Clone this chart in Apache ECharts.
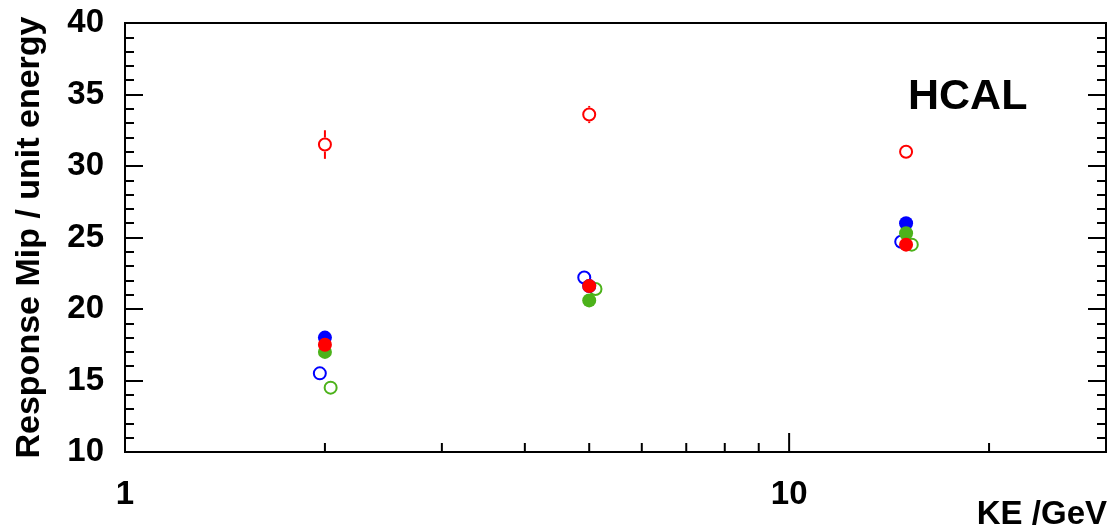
<!DOCTYPE html>
<html>
<head>
<meta charset="utf-8">
<script src="https://cdn.jsdelivr.net/npm/echarts@6/dist/echarts.min.js"></script>
<style>
  html, body { margin: 0; padding: 0; background: #fff; }
  #chart { width: 1114px; height: 529px; }
</style>
</head>
<body>
<div id="chart"></div>
<script>
// Beam kinetic energies (GeV) and the responses measured at each
const energies = [2, 5, 15];
const blueOpenX = [1.965, 4.915, 14.75];
const greenOpenX = [2.04, 5.11, 15.3];

const redOpenY = [31.5, 33.6, 31.0];
const redOpenErr = [1.0, 0.6, 0.15];
const blueOpenY = [15.5, 22.2, 24.7];
const greenOpenY = [14.5, 21.4, 24.5];
const blueFilledY = [18.0, 21.6, 26.0];
const greenFilledY = [17.0, 20.6, 25.3];
const redFilledY = [17.5, 21.6, 24.5];

// Log-axis tick positions
const xMinorTicks = [2, 3, 4, 5, 6, 7, 8, 9, 20];
const xMajorTicks = [10];
const xLabels = [1, 10];

const RED = '#ff0000';
const BLUE = '#0000ff';
const GREEN = '#4cb21a';
const FONT = 'Liberation Sans, Arial, sans-serif';

const zip = (xs, ys) => xs.map((x, i) => [x, ys[i]]);

const chart = echarts.init(document.getElementById('chart'));

function openSeries(name, xs, ys, color) {
  return {
    name, type: 'scatter', data: zip(xs, ys), z: 3,
    symbol: 'circle', symbolSize: 12,
    itemStyle: { color: 'rgba(0,0,0,0)', borderColor: color, borderWidth: 2, opacity: 1 },
    emphasis: { disabled: true }
  };
}
function filledSeries(name, xs, ys, color, z) {
  return {
    name, type: 'scatter', data: zip(xs, ys), z,
    symbol: 'circle', symbolSize: 14,
    itemStyle: { color, borderWidth: 0, opacity: 1 },
    emphasis: { disabled: true }
  };
}

const yAxisCommon = {
  type: 'value', min: 10, max: 40, interval: 5,
  axisLine: { show: true, lineStyle: { color: '#000', width: 2 } },
  axisTick: { show: true, inside: true, length: 18, lineStyle: { color: '#000', width: 2 } },
  minorTick: { show: true, splitNumber: 5, length: 9, lineStyle: { color: '#000', width: 2 } },
  splitLine: { show: false }
};

chart.setOption({
  animation: false,
  backgroundColor: '#fff',
  title: {
    text: 'HCAL', left: 903, top: 71,
    textStyle: { fontFamily: FONT, fontWeight: 'bold', fontSize: 43, color: '#000' }
  },
  grid: {
    left: 125, right: 8, top: 23, bottom: 77,
    outerBoundsMode: 'none', containLabel: false,
    show: true, borderColor: '#000', borderWidth: 2, backgroundColor: 'rgba(0,0,0,0)'
  },
  xAxis: {
    type: 'log', logBase: 10, min: 1, max: 30,
    name: 'KE /GeV', nameLocation: 'end', nameGap: 1,
    nameTextStyle: {
      fontFamily: FONT, fontWeight: 'bold', fontSize: 33, color: '#000',
      align: 'right', verticalAlign: 'top', padding: [46, 0, 0, 0]
    },
    axisLine: { show: true, lineStyle: { color: '#000', width: 2 } },
    axisTick: { show: false },
    splitLine: { show: false },
    axisLabel: {
      fontFamily: FONT, fontWeight: 'bold', fontSize: 33, color: '#000', margin: 26,
      showMaxLabel: false,
      formatter: v => (xLabels.indexOf(Math.round(v)) >= 0 ? String(Math.round(v)) : '')
    }
  },
  yAxis: [
    Object.assign({}, yAxisCommon, {
      position: 'left',
      name: 'Response Mip / unit energy', nameLocation: 'middle', nameRotate: 90, nameGap: 78,
      nameTextStyle: { fontFamily: FONT, fontWeight: 'bold', fontSize: 34, color: '#000' },
      axisLabel: { fontFamily: FONT, fontWeight: 'bold', fontSize: 33, color: '#000', margin: 21 }
    }),
    Object.assign({}, yAxisCommon, {
      position: 'right',
      axisLabel: { show: false }
    })
  ],
  series: [
    {
      // minor and major ticks along the log x axis
      name: 'xticks', type: 'custom', silent: true, z: 5,
      data: xMinorTicks.map(v => [v, 9]).concat(xMajorTicks.map(v => [v, 19])),
      renderItem: (params, api) => {
        const p = api.coord([api.value(0), 10]);
        const len = api.value(1);
        return {
          type: 'line',
          shape: { x1: p[0], y1: p[1], x2: p[0], y2: p[1] - len },
          style: { stroke: '#000', lineWidth: 2 }
        };
      }
    },
    openSeries('blue open', blueOpenX, blueOpenY, BLUE),
    openSeries('green open', greenOpenX, greenOpenY, GREEN),
    openSeries('red open', energies, redOpenY, RED),
    {
      // vertical error bars on the red open points, drawn outside the marker
      name: 'red open err', type: 'custom', silent: true, z: 3,
      data: energies.map((x, i) => [x, redOpenY[i], redOpenErr[i]]),
      renderItem: (params, api) => {
        const x = api.value(0), y = api.value(1), e = api.value(2);
        const c = api.coord([x, y]);
        const top = api.coord([x, y + e]);
        const bot = api.coord([x, y - e]);
        const r = 7;
        const children = [];
        if (c[1] - top[1] > r) children.push({ type: 'line', shape: { x1: c[0], y1: top[1], x2: c[0], y2: c[1] - r }, style: { stroke: RED, lineWidth: 2 } });
        if (bot[1] - c[1] > r) children.push({ type: 'line', shape: { x1: c[0], y1: c[1] + r, x2: c[0], y2: bot[1] }, style: { stroke: RED, lineWidth: 2 } });
        return { type: 'group', children };
      }
    },
    filledSeries('blue filled', energies, blueFilledY, BLUE, 4),
    filledSeries('green filled', energies, greenFilledY, GREEN, 5),
    filledSeries('red filled', energies, redFilledY, RED, 6)
  ]
});
</script>
</body>
</html>
